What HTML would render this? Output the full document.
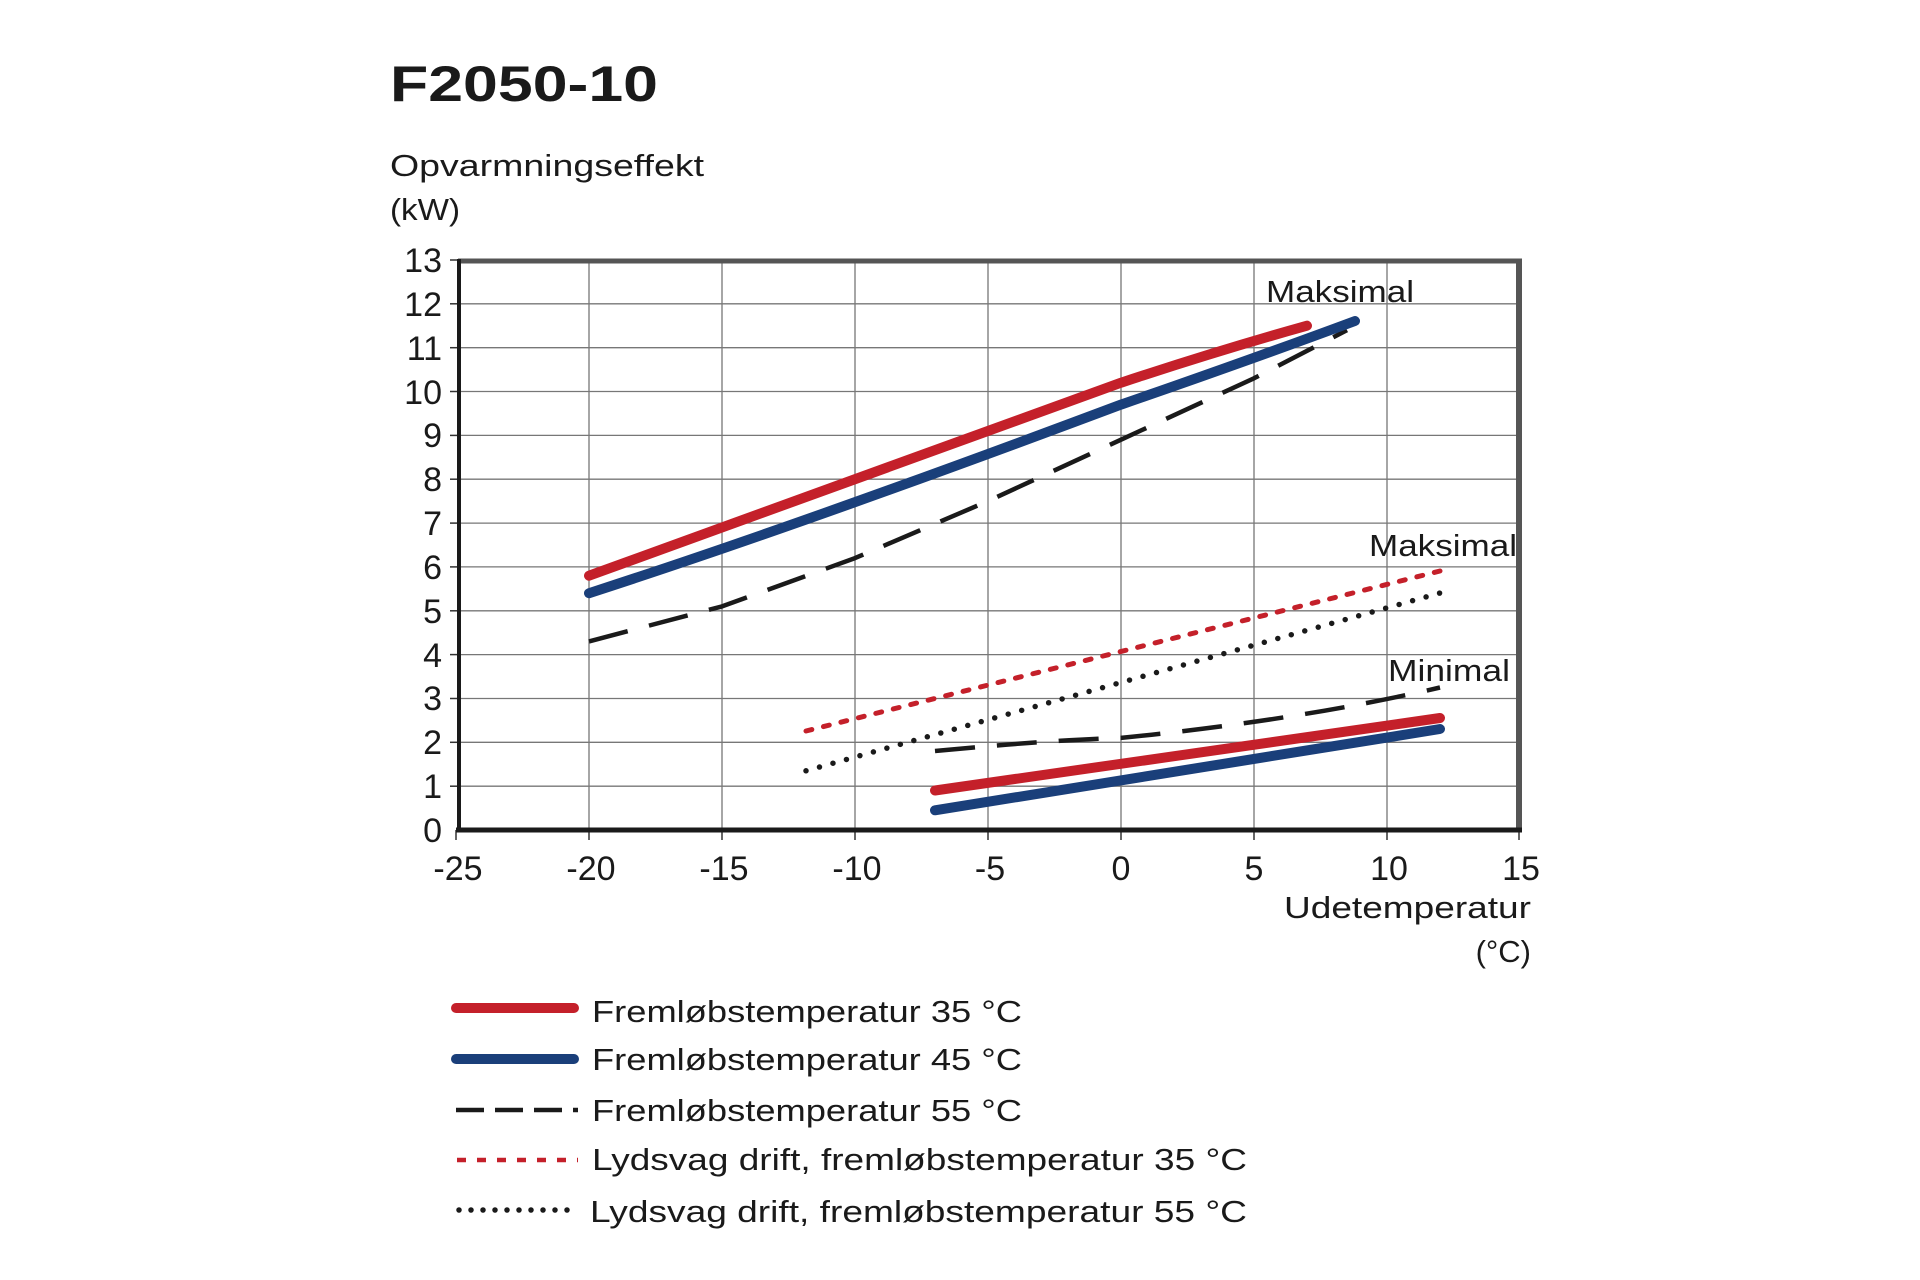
<!DOCTYPE html>
<html><head><meta charset="utf-8"><style>
html,body{margin:0;padding:0;background:#fff;}
svg{display:block;}
text{font-family:"Liberation Sans","DejaVu Sans",sans-serif;fill:#1a1a1a;}
</style></head><body>
<svg width="1920" height="1280" viewBox="0 0 1920 1280" xmlns="http://www.w3.org/2000/svg">
<text x="390" y="101" font-size="50" font-weight="bold" fill="#1a1a1a" textLength="268" lengthAdjust="spacingAndGlyphs">F2050-10</text>
<text x="390" y="176" font-size="31" textLength="314" lengthAdjust="spacingAndGlyphs">Opvarmningseffekt</text>
<text x="390" y="220" font-size="31" textLength="70" lengthAdjust="spacingAndGlyphs">(kW)</text>
<g stroke="#777" stroke-width="1.3">
<line x1="589" y1="262" x2="589" y2="830"/><line x1="722" y1="262" x2="722" y2="830"/><line x1="855" y1="262" x2="855" y2="830"/><line x1="988" y1="262" x2="988" y2="830"/><line x1="1121" y1="262" x2="1121" y2="830"/><line x1="1254" y1="262" x2="1254" y2="830"/><line x1="1387" y1="262" x2="1387" y2="830"/>
<line x1="458" y1="786.2" x2="1519" y2="786.2"/><line x1="458" y1="742.3" x2="1519" y2="742.3"/><line x1="458" y1="698.5" x2="1519" y2="698.5"/><line x1="458" y1="654.6" x2="1519" y2="654.6"/><line x1="458" y1="610.8" x2="1519" y2="610.8"/><line x1="458" y1="566.9" x2="1519" y2="566.9"/><line x1="458" y1="523.1" x2="1519" y2="523.1"/><line x1="458" y1="479.2" x2="1519" y2="479.2"/><line x1="458" y1="435.4" x2="1519" y2="435.4"/><line x1="458" y1="391.5" x2="1519" y2="391.5"/><line x1="458" y1="347.7" x2="1519" y2="347.7"/><line x1="458" y1="303.8" x2="1519" y2="303.8"/>
</g>
<g stroke="#333" stroke-width="1.5">
<line x1="456" y1="830" x2="456" y2="840"/><line x1="589" y1="830" x2="589" y2="840"/><line x1="722" y1="830" x2="722" y2="840"/><line x1="855" y1="830" x2="855" y2="840"/><line x1="988" y1="830" x2="988" y2="840"/><line x1="1121" y1="830" x2="1121" y2="840"/><line x1="1254" y1="830" x2="1254" y2="840"/><line x1="1387" y1="830" x2="1387" y2="840"/><line x1="1519" y1="830" x2="1519" y2="840"/>
<line x1="450" y1="260" x2="458" y2="260"/><line x1="450" y1="303.8" x2="458" y2="303.8"/><line x1="450" y1="347.7" x2="458" y2="347.7"/><line x1="450" y1="391.5" x2="458" y2="391.5"/><line x1="450" y1="435.4" x2="458" y2="435.4"/><line x1="450" y1="479.2" x2="458" y2="479.2"/><line x1="450" y1="523.1" x2="458" y2="523.1"/><line x1="450" y1="566.9" x2="458" y2="566.9"/><line x1="450" y1="610.8" x2="458" y2="610.8"/><line x1="450" y1="654.6" x2="458" y2="654.6"/><line x1="450" y1="698.5" x2="458" y2="698.5"/><line x1="450" y1="742.3" x2="458" y2="742.3"/><line x1="450" y1="786.2" x2="458" y2="786.2"/>
</g>
<line x1="458" y1="261" x2="1522" y2="261" stroke="#555" stroke-width="5"/>
<line x1="1519" y1="259" x2="1519" y2="832" stroke="#555" stroke-width="6"/>
<line x1="459" y1="259" x2="459" y2="832" stroke="#1a1a1a" stroke-width="4"/>
<line x1="456" y1="830" x2="1522" y2="830" stroke="#1a1a1a" stroke-width="5"/>
<g font-size="34" text-anchor="end" fill="#333">
<text x="442" y="272">13</text><text x="442" y="316">12</text><text x="442" y="360">11</text><text x="442" y="404">10</text><text x="442" y="447">9</text><text x="442" y="491">8</text><text x="442" y="535">7</text><text x="442" y="579">6</text><text x="442" y="623">5</text><text x="442" y="667">4</text><text x="442" y="710">3</text><text x="442" y="754">2</text><text x="442" y="798">1</text><text x="442" y="842">0</text>
</g>
<g font-size="34" text-anchor="middle" fill="#333">
<text x="458" y="880">-25</text><text x="591" y="880">-20</text><text x="724" y="880">-15</text><text x="857" y="880">-10</text><text x="990" y="880">-5</text><text x="1121" y="880">0</text><text x="1254" y="880">5</text><text x="1389" y="880">10</text><text x="1521" y="880">15</text>
</g>
<text x="1284" y="918" font-size="31" textLength="247" lengthAdjust="spacingAndGlyphs">Udetemperatur</text>
<text x="1531" y="962" font-size="31" text-anchor="end">(°C)</text>
<text x="1266" y="302" font-size="31" textLength="148" lengthAdjust="spacingAndGlyphs">Maksimal</text>
<text x="1369" y="556" font-size="31" textLength="148" lengthAdjust="spacingAndGlyphs">Maksimal</text>
<text x="1388" y="681" font-size="31" textLength="122" lengthAdjust="spacingAndGlyphs">Minimal</text>
<g fill="none" stroke-linecap="round" stroke-linejoin="round">
<path d="M589,641.4 L722,606.4 L855,558.1 L988,501.1 L1121,439.7 L1254,378.3 L1347,330.1" stroke="#1a1a1a" stroke-width="4.5" stroke-dasharray="40,22" stroke-linecap="butt"/>
<path d="M589,593.2 Q800,525 1121,404.6 Q1250,360 1355,321" stroke="#1a3f7a" stroke-width="10"/>
<path d="M589,575.7 Q800,500 1121,382.7 Q1220,350 1307,325.7" stroke="#c4202a" stroke-width="10"/>
<path d="M806,731 L1440,571" stroke="#c4202a" stroke-width="5" stroke-dasharray="6,12"/>
<path d="M806,770.8 L1440,593" stroke="#1a1a1a" stroke-width="5.5" stroke-dasharray="0,14"/>
<path d="M935,751 Q1050,740 1121,737.9 Q1300,720 1440,687.5" stroke="#1a1a1a" stroke-width="4.5" stroke-dasharray="40,22" stroke-linecap="butt"/>
<path d="M935,790.5 L1440,718" stroke="#c4202a" stroke-width="10"/>
<path d="M935,810.3 L1440,729" stroke="#1a3f7a" stroke-width="10"/>
</g>
<g fill="none">
<line x1="456" y1="1008" x2="574" y2="1008" stroke="#c4202a" stroke-width="10" stroke-linecap="round"/>
<line x1="456" y1="1059" x2="574" y2="1059" stroke="#1a3f7a" stroke-width="10" stroke-linecap="round"/>
<line x1="456" y1="1110" x2="578" y2="1110" stroke="#1a1a1a" stroke-width="4.5" stroke-dasharray="28,11"/>
<line x1="457" y1="1160" x2="578" y2="1160" stroke="#c4202a" stroke-width="4.5" stroke-dasharray="9,11"/>
<line x1="459" y1="1210" x2="578" y2="1210" stroke="#1a1a1a" stroke-width="5.5" stroke-dasharray="0,12" stroke-linecap="round"/>
</g>
<g font-size="31">
<text x="592" y="1022" textLength="430" lengthAdjust="spacingAndGlyphs">Fremløbstemperatur 35 °C</text>
<text x="592" y="1070" textLength="430" lengthAdjust="spacingAndGlyphs">Fremløbstemperatur 45 °C</text>
<text x="592" y="1121" textLength="430" lengthAdjust="spacingAndGlyphs">Fremløbstemperatur 55 °C</text>
<text x="592" y="1170" textLength="655" lengthAdjust="spacingAndGlyphs">Lydsvag drift, fremløbstemperatur 35 °C</text>
<text x="590" y="1222" textLength="657" lengthAdjust="spacingAndGlyphs">Lydsvag drift, fremløbstemperatur 55 °C</text>
</g>
</svg>
</body></html>
